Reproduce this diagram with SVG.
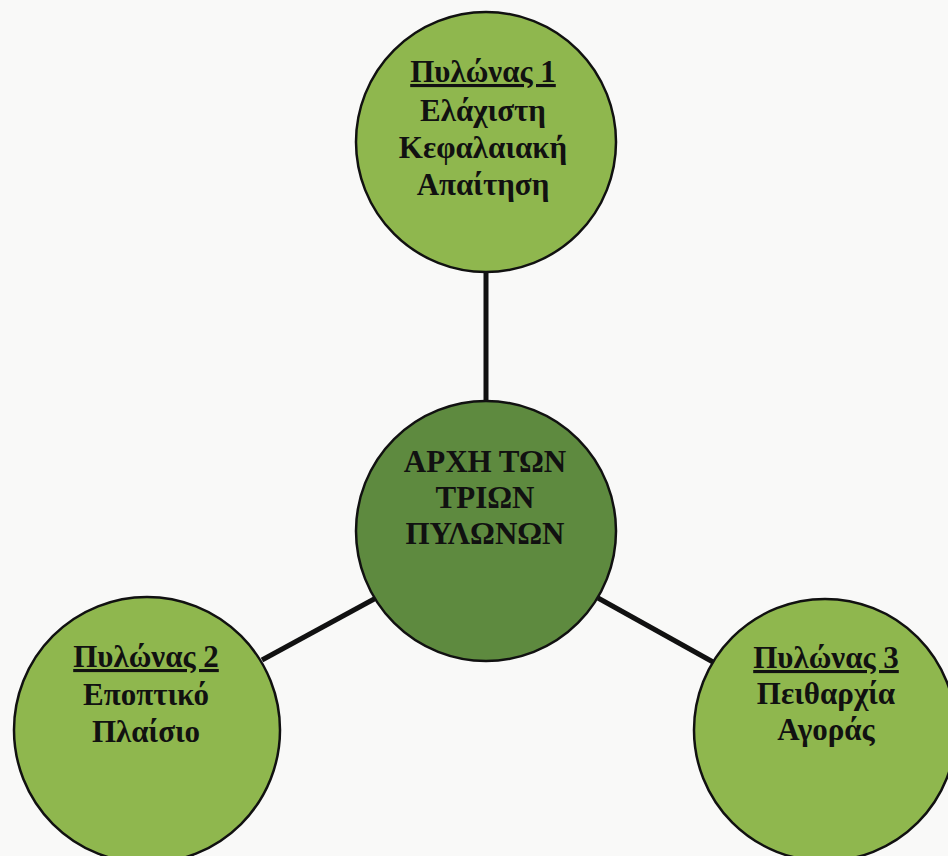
<svg xmlns="http://www.w3.org/2000/svg" width="948" height="856" viewBox="0 0 948 856">
<style>
.bg{fill:#f9f9f8}
.node{stroke:#111;stroke-width:2.5}
.light{fill:#8fb74e}
.dark{fill:#5e8a3f}
.edge{stroke:#111;stroke-width:5;fill:none}
text{font-family:"Liberation Serif","Times New Roman",serif;font-weight:bold;font-size:31px;fill:#111;text-anchor:middle}
.u{text-decoration:underline}
</style>
<rect class="bg" x="0" y="0" width="948" height="856"/>
<g id="connectors">
<line class="edge" x1="486" y1="272" x2="486" y2="402"/>
<line class="edge" x1="376" y1="598" x2="262" y2="660"/>
<line class="edge" x1="598" y1="598" x2="713" y2="662"/>
</g>
<g id="pillar1">
<circle class="node light" cx="486" cy="142" r="130"/>
<text x="483" y="82" class="u">Πυλώνας 1</text>
<text x="483" y="121">Ελάχιστη</text>
<text x="483" y="158">Κεφαλαιακή</text>
<text x="483" y="195">Απαίτηση</text>
</g>
<g id="center">
<circle class="node dark" cx="486" cy="531" r="130"/>
<text x="485" y="472">ΑΡΧΗ ΤΩΝ</text>
<text x="485" y="508">ΤΡΙΩΝ</text>
<text x="485" y="544">ΠΥΛΩΝΩΝ</text>
</g>
<g id="pillar2">
<circle class="node light" cx="147" cy="730" r="133"/>
<text x="146" y="667" class="u">Πυλώνας 2</text>
<text x="146" y="705">Εποπτικό</text>
<text x="146" y="742">Πλαίσιο</text>
</g>
<g id="pillar3">
<circle class="node light" cx="825" cy="730" r="131"/>
<text x="826" y="668" class="u">Πυλώνας 3</text>
<text x="826" y="704">Πειθαρχία</text>
<text x="826" y="740">Αγοράς</text>
</g>
</svg>
